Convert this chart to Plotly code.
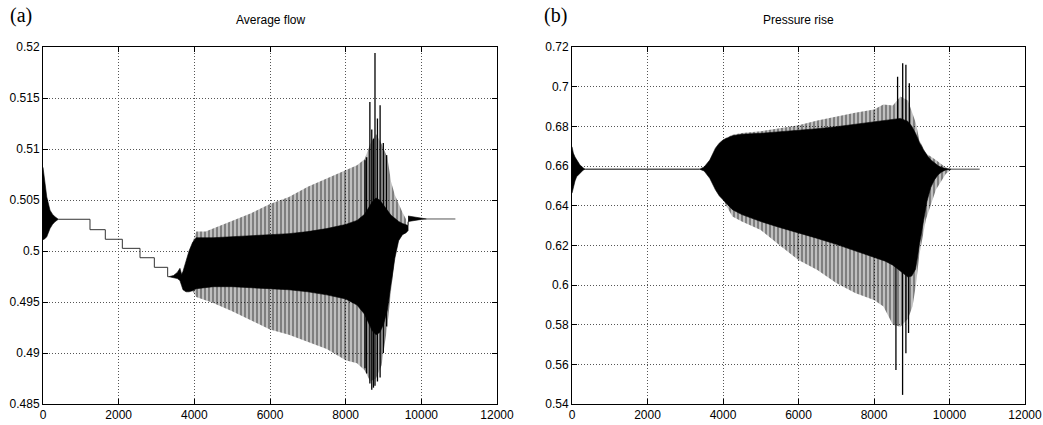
import plotly.graph_objects as go

# ---------------- Panel (a): Average flow ----------------
A_T0_X = [0, 50, 100, 185, 250, 317, 405]
A_T0_HI = [0.5082, 0.5064, 0.5053, 0.5040, 0.5036, 0.50336, 0.50311]
A_T0_LO = [0.5011, 0.5012, 0.5014, 0.5022, 0.5026, 0.50287, 0.50311]

A_STEP_X = [405, 1242, 1647, 2097, 2564, 2943, 3295, 3330]
A_STEP_Y = [0.50311, 0.50209, 0.50115, 0.50026, 0.49934, 0.49840, 0.49748, 0.49748]

A_CORE_X = [3330, 3450, 3550, 3620, 3665, 3700, 3780, 3860, 3950, 4050, 4500, 5000, 5500,
            6000, 6500, 7000, 7500, 8000, 8300, 8500, 8600, 8700, 8800, 8900, 9000, 9100,
            9200, 9300, 9400, 9500, 9600, 9650]
A_CORE_HI = [0.49748, 0.4976, 0.4979, 0.4983, 0.4977, 0.4980, 0.4990, 0.5000, 0.5008, 0.5013,
             0.5013, 0.5014, 0.5015, 0.5016, 0.5017, 0.5019, 0.5022, 0.5026, 0.5030, 0.5036,
             0.5042, 0.5048, 0.5052, 0.5050, 0.5045, 0.5040, 0.5035, 0.5032, 0.5029, 0.5027,
             0.5026, 0.5025]
A_CORE_LO = [0.49748, 0.4974, 0.4973, 0.4971, 0.4966, 0.4962, 0.4960, 0.4960, 0.4961, 0.4963,
             0.4965, 0.4965, 0.4964, 0.4963, 0.4962, 0.4960, 0.4957, 0.4953, 0.4947, 0.4938,
             0.4930, 0.4922, 0.4918, 0.4920, 0.4928, 0.4942, 0.4965, 0.4993, 0.5010, 0.5016,
             0.5018, 0.5020]

A_OUT_X = [3950, 4050, 4300, 4500, 5000, 5500, 6000, 6500, 7000, 7500, 8000, 8300, 8500,
           8650, 8800, 8950, 9100, 9200, 9300, 9400, 9500, 9600]
A_OUT_HI = [0.5008, 0.5019, 0.5019, 0.5022, 0.5030, 0.5037, 0.5046, 0.5053, 0.5063, 0.5071,
            0.5079, 0.5084, 0.5090, 0.5105, 0.5115, 0.5105, 0.5092, 0.5068, 0.5055, 0.5046,
            0.5038, 0.5031]
A_OUT_LO = [0.4961, 0.4955, 0.4952, 0.4949, 0.4941, 0.4932, 0.4923, 0.4918, 0.4911, 0.4904,
            0.4893, 0.4890, 0.4883, 0.4872, 0.4875, 0.4888, 0.4926, 0.4962, 0.4995, 0.5011,
            0.5016, 0.5018]

A_SPK_X = [8511, 8555, 8640, 8690, 8735, 8775, 8840, 8910, 8995, 9083]
A_SPK_TOP = [0.5089, 0.5092, 0.5146, 0.5119, 0.5110, 0.5194, 0.5130, 0.5143, 0.5106, 0.5094]
A_SPK_BOT = [0.4885, 0.4880, 0.4870, 0.4864, 0.4866, 0.4868, 0.4872, 0.4876, 0.4900, 0.4926]

A_T1_X = [9650, 9700, 9800, 9900, 10000, 10140]
A_T1_HI = [0.50343, 0.5034, 0.5033, 0.50322, 0.50316, 0.50314]
A_T1_LO = [0.50287, 0.50292, 0.50300, 0.50306, 0.50310, 0.50314]
A_FLAT_X = [10140, 10900]
A_FLAT_Y = [0.50314, 0.50314]

# ---------------- Panel (b): Pressure rise ----------------
B_T0_X = [0, 35, 80, 123, 211, 300, 350]
B_T0_HI = [0.6697, 0.6665, 0.6645, 0.6630, 0.6605, 0.6590, 0.6584]
B_T0_LO = [0.6463, 0.6496, 0.6525, 0.6546, 0.6563, 0.6580, 0.6584]
B_FLAT1_X = [350, 3380]
B_FLAT1_Y = [0.6584, 0.6584]

B_CORE_X = [3380, 3500, 3650, 3800, 3900, 4000, 4250, 4500, 5000, 5500, 6000, 6500, 7000,
            7500, 8000, 8300, 8500, 8700, 8900, 9000, 9100, 9200, 9300, 9400, 9500, 9600,
            9700, 9800, 9900, 10050]
B_CORE_HI = [0.6584, 0.6595, 0.6630, 0.6690, 0.6715, 0.6731, 0.6752, 0.6760, 0.6765, 0.6772,
             0.6778, 0.6788, 0.6798, 0.6810, 0.6822, 0.6830, 0.6835, 0.6840, 0.6825, 0.6800,
             0.6765, 0.6720, 0.6685, 0.6655, 0.6632, 0.6614, 0.6601, 0.6592, 0.6587, 0.6584]
B_CORE_LO = [0.6584, 0.6575, 0.6538, 0.6480, 0.6450, 0.6429, 0.6380, 0.6355, 0.6320, 0.6290,
             0.6262, 0.6235, 0.6205, 0.6170, 0.6140, 0.6120, 0.6100, 0.6070, 0.6040, 0.6045,
             0.6080, 0.6200, 0.6320, 0.6420, 0.6490, 0.6530, 0.6556, 0.6571, 0.6580, 0.6584]

B_OUT_X = [4000, 4250, 4500, 5000, 5500, 6000, 6500, 7000, 7500, 8000, 8250, 8500, 8700,
           8900, 9020, 9110, 9200, 9375, 9640, 9900, 10050]
B_OUT_HI = [0.6735, 0.6758, 0.6766, 0.6775, 0.6790, 0.6805, 0.6830, 0.6850, 0.6868, 0.6885,
            0.6910, 0.6905, 0.6950, 0.6930, 0.6860, 0.6815, 0.6731, 0.6664, 0.6630, 0.6592,
            0.6584]
B_OUT_LO = [0.6429, 0.6345, 0.6320, 0.6277, 0.6200, 0.6126, 0.6076, 0.6010, 0.5960, 0.5925,
            0.5892, 0.5800, 0.5790, 0.5830, 0.5892, 0.6000, 0.6150, 0.6330, 0.6480, 0.6560,
            0.6584]

B_SPK_UP_X = [8625, 8760, 8845, 8935]
B_SPK_UP_Y = [0.7050, 0.7118, 0.7110, 0.7017]
B_SPK_DN_X = [8581, 8757, 8845, 8915]
B_SPK_DN_Y = [0.5572, 0.5446, 0.5656, 0.5758]
B_SPK_BASE = 0.64

B_FLAT2_X = [10050, 10800]
B_FLAT2_Y = [0.6584, 0.6584]

# ---------------- ticks & labels ----------------
X_TICKS = [0, 2000, 4000, 6000, 8000, 10000, 12000]
X_TICKTEXT = ["0", "2000", "4000", "6000", "8000", "10000", "12000"]
A_YTICKS = [0.485, 0.49, 0.495, 0.5, 0.505, 0.51, 0.515, 0.52]
A_YTEXT = ["0.485", "0.49", "0.495", "0.5", "0.505", "0.51", "0.515", "0.52"]
B_YTICKS = [0.54, 0.56, 0.58, 0.6, 0.62, 0.64, 0.66, 0.68, 0.7, 0.72]
B_YTEXT = ["0.54", "0.56", "0.58", "0.6", "0.62", "0.64", "0.66", "0.68", "0.7", "0.72"]
TITLES = ["Average flow", "Pressure rise"]
PANEL_TAGS = ["(a)", "(b)"]

fig = go.Figure()


def band(xs, hi, lo, xa, ya, pattern=False):
    px = list(xs) + list(xs)[::-1]
    py = list(hi) + list(lo)[::-1]
    kw = dict(x=px, y=py, xaxis=xa, yaxis=ya, mode="lines", fill="toself",
              line=dict(width=0.6, color="black"), hoverinfo="skip", showlegend=False)
    if pattern:
        kw["fillcolor"] = "rgba(0,0,0,0)"
        kw["line"] = dict(width=0, color="rgba(0,0,0,0)")
        kw["fillpattern"] = dict(shape="|", size=4, solidity=0.75,
                                 fgcolor="black", bgcolor="rgba(0,0,0,0)")
    else:
        kw["fillcolor"] = "black"
    fig.add_trace(go.Scatter(**kw))


def line(xs, ys, xa, ya, shape="linear", color="black"):
    fig.add_trace(go.Scatter(x=xs, y=ys, xaxis=xa, yaxis=ya, mode="lines",
                             line=dict(width=1, color=color, shape=shape),
                             hoverinfo="skip", showlegend=False))


def spikes(xs, bots, tops, xa, ya):
    sx, sy = [], []
    for x, b, t in zip(xs, bots, tops):
        sx += [x, x, None]
        sy += [b, t, None]
    fig.add_trace(go.Scatter(x=sx, y=sy, xaxis=xa, yaxis=ya, mode="lines",
                             line=dict(width=1.3, color="black"),
                             hoverinfo="skip", showlegend=False))


# panel (a)
band(A_OUT_X, A_OUT_HI, A_OUT_LO, "x", "y", pattern=True)
band(A_T0_X, A_T0_HI, A_T0_LO, "x", "y")
line(A_STEP_X, A_STEP_Y, "x", "y", shape="hv", color="#333333")
band(A_CORE_X, A_CORE_HI, A_CORE_LO, "x", "y")
spikes(A_SPK_X, A_SPK_BOT, A_SPK_TOP, "x", "y")
band(A_T1_X, A_T1_HI, A_T1_LO, "x", "y")
line([A_CORE_X[-1], A_T1_X[0]], [A_CORE_HI[-1], A_T1_LO[0]], "x", "y")
line(A_FLAT_X, A_FLAT_Y, "x", "y", color="#555555")

# panel (b)
band(B_OUT_X, B_OUT_HI, B_OUT_LO, "x2", "y2", pattern=True)
band(B_T0_X, B_T0_HI, B_T0_LO, "x2", "y2")
line(B_FLAT1_X, B_FLAT1_Y, "x2", "y2")
band(B_CORE_X, B_CORE_HI, B_CORE_LO, "x2", "y2")
spikes(B_SPK_UP_X, [B_SPK_BASE] * len(B_SPK_UP_X), B_SPK_UP_Y, "x2", "y2")
spikes(B_SPK_DN_X, [B_SPK_BASE] * len(B_SPK_DN_X), B_SPK_DN_Y, "x2", "y2")
line(B_FLAT2_X, B_FLAT2_Y, "x2", "y2", color="#444444")

W, H = 1043, 425
tickfont = dict(family="Liberation Sans, Arial, sans-serif", size=12, color="black")
grid = dict(showgrid=True, gridcolor="#555555", griddash="1px,2px", gridwidth=1)
common_x = dict(range=[0, 12000], tickvals=X_TICKS, ticktext=X_TICKTEXT, showline=True,
                linecolor="black", linewidth=1, mirror="ticks", ticks="inside", ticklen=5,
                tickcolor="black", zeroline=False, tickfont=tickfont, automargin=False,
                **grid)
common_y = dict(showline=True, linecolor="black", linewidth=1, mirror="ticks",
                ticks="inside", ticklen=5, tickcolor="black", zeroline=False,
                tickfont=tickfont, automargin=False, **grid)

y_dom = [1 - 404 / H, 1 - 47 / H]
fig.update_layout(
    width=W, height=H, margin=dict(l=0, r=0, t=0, b=0, autoexpand=False),
    paper_bgcolor="white", plot_bgcolor="white", showlegend=False,
    xaxis=dict(domain=[43 / W, 497 / W], anchor="y", **common_x),
    yaxis=dict(domain=y_dom, anchor="x", range=[0.485, 0.52], tickvals=A_YTICKS,
               ticktext=A_YTEXT, **common_y),
    xaxis2=dict(domain=[572 / W, 1025 / W], anchor="y2", **common_x),
    yaxis2=dict(domain=y_dom, anchor="x2", range=[0.54, 0.72], tickvals=B_YTICKS,
                ticktext=B_YTEXT, **common_y),
)

title_font = dict(family="Liberation Sans, Arial, sans-serif", size=12, color="black")
tag_font = dict(family="Liberation Serif, Times New Roman, serif", size=20, color="black")
fig.add_annotation(x=270 / W, y=1 - 20 / H, xref="paper", yref="paper", text=TITLES[0],
                   showarrow=False, font=title_font, xanchor="center", yanchor="middle")
fig.add_annotation(x=798 / W, y=1 - 20 / H, xref="paper", yref="paper", text=TITLES[1],
                   showarrow=False, font=title_font, xanchor="center", yanchor="middle")
fig.add_annotation(x=21 / W, y=1 - 16 / H, xref="paper", yref="paper", text=PANEL_TAGS[0],
                   showarrow=False, font=tag_font, xanchor="center", yanchor="middle")
fig.add_annotation(x=555 / W, y=1 - 16 / H, xref="paper", yref="paper", text=PANEL_TAGS[1],
                   showarrow=False, font=tag_font, xanchor="center", yanchor="middle")

fig.write_html("out.html", config={"displayModeBar": False},
               post_script="document.body.style.margin='0';"
                           "document.body.style.overflow='hidden';")
